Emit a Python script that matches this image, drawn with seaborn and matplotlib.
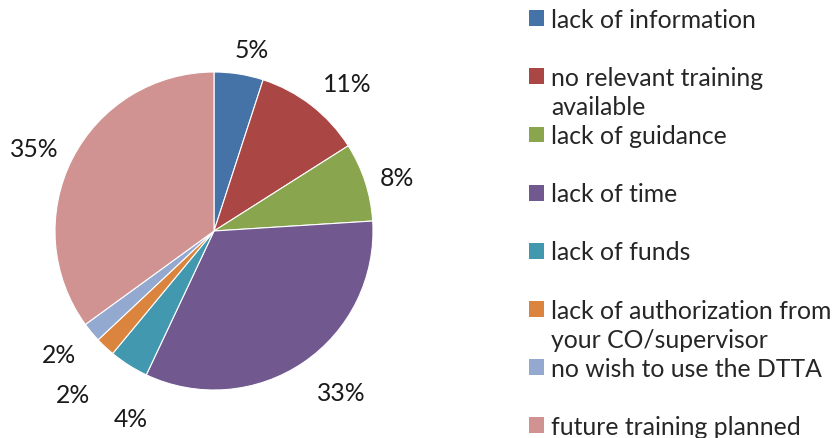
import numpy as np
import matplotlib
matplotlib.use("Agg")
import matplotlib.pyplot as plt
from matplotlib.patches import Rectangle
import seaborn as sns

# Reasons given, in drawing order (clockwise from 12 o'clock)
categories = [
    "lack of information",
    "no relevant training\navailable",
    "lack of guidance",
    "lack of time",
    "lack of funds",
    "lack of authorization from\nyour CO/supervisor",
    "no wish to use the DTTA",
    "future training planned",
]
shares = [5, 11, 8, 33, 4, 2, 2, 35]
colors = ["#4572A7", "#AA4643", "#89A54E", "#71588F",
          "#4198AF", "#DB843D", "#93A9CF", "#D19392"]
# percentage label placement: radius (in pie radii) and angular nudge from the
# wedge's mid-angle (degrees), so the small slices' labels do not collide
label_radius = [1.18, 1.26, 1.20, 1.28, 1.28, 1.35, 1.24, 1.25]
label_nudge = [-2.7, -4.0, -1.0, 4.4, 8.4, 2.0, -1.4, 1.7]

sns.set_theme(style="white")
plt.rcParams["font.family"] = ["Lato", "DejaVu Sans"]
palette = sns.color_palette(colors)

FS = 17.8
fig = plt.figure(figsize=(8.36, 4.39), dpi=100)
W, H = 836, 439
cx, cy, r = 214, 232, 159
ax = fig.add_axes([(cx - r) / W, (H - cy - r) / H, 2 * r / W, 2 * r / H])

wedges, _, autotexts = ax.pie(
    shares,
    colors=palette,
    startangle=90,
    counterclock=False,
    autopct="%1.0f%%",
    pctdistance=1.25,
    wedgeprops=dict(edgecolor="white", linewidth=0.8),
    textprops=dict(fontsize=FS, color="#1a1a1a"),
)
for w, t, d, nudge in zip(wedges, autotexts, label_radius, label_nudge):
    mid = np.deg2rad((w.theta1 + w.theta2) / 2 + nudge)
    t.set_position((d * np.cos(mid), d * np.sin(mid)))
    t.set_ha("center")
    t.set_va("center_baseline")

ax.set_xlim(-1, 1)
ax.set_ylim(-1, 1)
ax.set_aspect("equal")
ax.axis("off")

# Legend: each wrapped label takes two rows; single-line labels get a spacer row
handles, labels = [], []
blank = Rectangle((0, 0), 1, 1, facecolor="none", edgecolor="none")
for name, col in zip(categories, palette):
    lines = name.split("\n")
    handles.append(Rectangle((0, 0), 1, 1, facecolor=col, edgecolor="none"))
    labels.append(lines[0])
    handles.append(blank)
    labels.append(lines[1] if len(lines) > 1 else " ")
handles, labels = handles[:-1], labels[:-1]

fig.legend(
    handles, labels,
    loc="upper left",
    bbox_to_anchor=(529 / W, 1 - 9 / H),
    frameon=False,
    fontsize=FS,
    handlelength=0.61,
    handleheight=0.61,
    handletextpad=0.28,
    labelspacing=0.245,
    borderpad=0,
    borderaxespad=0,
)

fig.savefig("out.png", dpi=100)
